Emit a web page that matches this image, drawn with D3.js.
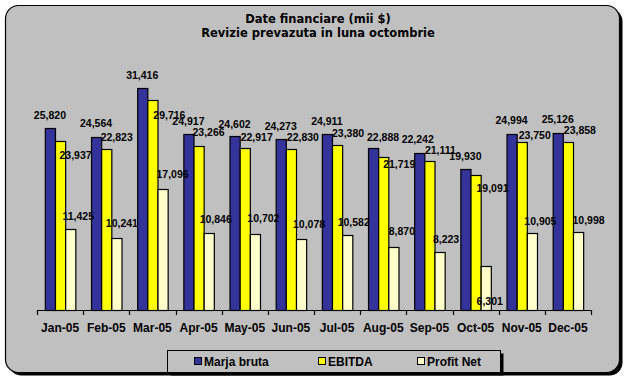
<!DOCTYPE html>
<html>
<head>
<meta charset="utf-8">
<script src="https://cdn.jsdelivr.net/npm/d3@7"></script>
<style>
  body { margin: 0; background: #fff; }
  svg { display: block; }
  text { font-family: Arial, "Liberation Sans", sans-serif; font-weight: bold; fill: #000; }
</style>
</head>
<body>
<div id="chart"></div>
<script>
var months = ["Jan-05", "Feb-05", "Mar-05", "Apr-05", "May-05", "Jun-05",
  "Jul-05", "Aug-05", "Sep-05", "Oct-05", "Nov-05", "Dec-05"];
var seriesNames = ["Marja bruta", "EBITDA", "Profit Net"];
var marjaBruta = [25820, 24564, 31416, 24917, 24602, 24273, 24911, 22888, 22242, 19930, 24994, 25126];
var ebitda = [23937, 22823, 29716, 23266, 22917, 22830, 23380, 21719, 21111, 19091, 23750, 23858];
var profitNet = [11425, 10241, 17096, 10846, 10702, 10078, 10582, 8870, 8223, 6301, 10905, 10998];
var titleLines = ["Date financiare (mii $)", "Revizie prevazuta in luna octombrie"];

var colors = ["#333399", "#ffff00", "#ffffcc"];

// label nudges (label centre relative to bar top centre), as placed in the original
var labelNudge = [
  [[0,-13],[0,-13],[0,-13.5],[0,-12.5],[0,-12.5],[0,-12.5],[0,-12.5],[10,-11],[-1.5,-13.5],[0,-13],[0,-13],[0,-13]],
  [[15.5,14],[10.5,-12],[17,15],[10,-14],[12,-11],[12,-12],[11,-12],[16,7],[11,-11],[17,13],[13,-7],[12,-11.5]],
  [[8,-13.5],[5.5,-15],[10,-15],[7,-14],[8.5,-16],[8,-15],[6.5,-13],[8.5,-16.5],[6.5,-12.5],[4,35.5],[8.5,-12],[10.5,-12]]
];

var width = 631, height = 384;
var svg = d3.select("#chart").append("svg").attr("width", width).attr("height", height);

// chart frame with shadow
svg.append("rect").attr("x", 8.5).attr("y", 8.5).attr("width", 614).attr("height", 367)
  .attr("rx", 13).attr("fill", "#000");
svg.append("rect").attr("x", 5.5).attr("y", 5.5).attr("width", 614).attr("height", 367)
  .attr("rx", 13).attr("fill", "#c0c0c0").attr("stroke", "#000").attr("stroke-width", 1.2);

// title
titleLines.forEach(function (t, i) {
  svg.append("text").attr("x", 318).attr("y", 23 + i * 14).attr("text-anchor", "middle")
    .style("font-family", "'DejaVu Sans', Verdana, sans-serif").style("font-size", "11.5px")
    .text(t);
});

var plot = { left: 37, right: 591, top: 63, bottom: 310 };

var x0 = d3.scaleBand().domain(months).range([plot.left, plot.right]);
var bw = x0.bandwidth();
var x1 = d3.scaleBand().domain(seriesNames).range([bw * 0.17, bw * 0.83]);
var y = d3.scaleLinear().domain([0, 35000]).range([plot.bottom, plot.top]);

var table = months.map(function (m, i) {
  return { month: m, values: [marjaBruta[i], ebitda[i], profitNet[i]] };
});

var groups = svg.append("g").selectAll(".month").data(table).enter()
  .append("g").attr("class", "month")
  .attr("transform", function (d) { return "translate(" + x0(d.month) + ",0)"; });

groups.selectAll("rect").data(function (d) {
    return d.values.map(function (v, s) { return { s: s, v: v }; });
  }).enter().append("rect")
  .attr("x", function (d) { return x1(seriesNames[d.s]) + 0.5; })
  .attr("y", function (d) { return Math.round(y(d.v)) + 0.5; })
  .attr("width", x1.bandwidth())
  .attr("height", function (d) { return plot.bottom - Math.round(y(d.v)); })
  .attr("fill", function (d) { return colors[d.s]; })
  .attr("stroke", "#000").attr("stroke-width", 1.2);

// x axis
var xAxis = svg.append("g").attr("transform", "translate(0," + plot.bottom + ")");
xAxis.append("line").attr("x1", plot.left).attr("x2", plot.right).attr("y1", 0.5).attr("y2", 0.5)
  .attr("stroke", "#000").attr("stroke-width", 1.2);
var tickPos = months.map(function (m) { return x0(m); }).concat([plot.right]);
xAxis.selectAll(".tick").data(tickPos).enter().append("line")
  .attr("x1", function (d) { return Math.round(d) + 0.5; })
  .attr("x2", function (d) { return Math.round(d) + 0.5; })
  .attr("y1", 0).attr("y2", 5).attr("stroke", "#000").attr("stroke-width", 1.2);
xAxis.selectAll("text").data(months).enter().append("text")
  .attr("x", function (d) { return x0(d) + bw / 2; })
  .attr("y", 22).attr("text-anchor", "middle").style("font-size", "12px")
  .text(function (d) { return d; });

// data labels
var fmt = d3.format(",");
var labels = svg.append("g");
table.forEach(function (row, i) {
  row.values.forEach(function (v, s) {
    var cx = x0(row.month) + x1(seriesNames[s]) + x1.bandwidth() / 2;
    var n = labelNudge[s][i];
    labels.append("text")
      .attr("x", cx + n[0])
      .attr("y", y(v) + n[1])
      .attr("dy", "0.36em")
      .attr("text-anchor", "middle")
      .style("font-size", "10.5px")
      .text(fmt(v));
  });
});

// legend
var legend = svg.append("g");
legend.append("rect").attr("x", 170.5).attr("y", 353.5).attr("width", 333).attr("height", 22).attr("fill", "#000");
legend.append("rect").attr("x", 167.5).attr("y", 350.5).attr("width", 333).attr("height", 22)
  .attr("fill", "#c0c0c0").attr("stroke", "#000").attr("stroke-width", 1);
var legendX = [194, 318, 417];
seriesNames.forEach(function (name, s) {
  legend.append("rect").attr("x", legendX[s] + 0.5).attr("y", 357.5).attr("width", 7).attr("height", 7)
    .attr("fill", colors[s]).attr("stroke", "#000").attr("stroke-width", 1);
  legend.append("text").attr("x", legendX[s] + 10).attr("y", 365.5)
    .style("font-size", "12px").text(name);
});
</script>
</body>
</html>
